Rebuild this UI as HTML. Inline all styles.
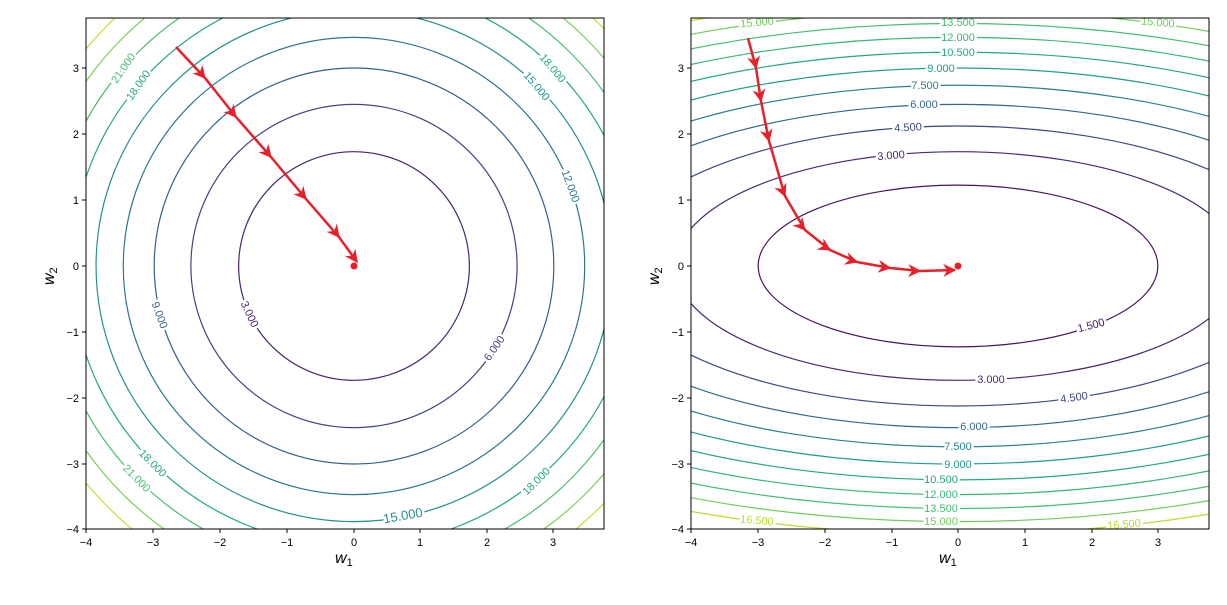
<!DOCTYPE html>
<html><head><meta charset="utf-8"><style>
html,body{margin:0;padding:0;background:#fff}
svg{display:block;font-family:"Liberation Sans","DejaVu Sans",sans-serif}
.t{font-size:11px;fill:#000}
.cl{font-size:11px;paint-order:stroke;stroke:#fff;stroke-width:5px;stroke-linejoin:round}
</style></head><body>
<svg width="1227" height="605" viewBox="0 0 1227 605" xmlns="http://www.w3.org/2000/svg">
<defs>
<clipPath id="cA"><rect x="86" y="18" width="518" height="511"/></clipPath>
<clipPath id="cB"><rect x="691" y="18" width="518" height="511"/></clipPath>
<marker id="ah" viewBox="0 0 10 10" refX="9" refY="5" markerWidth="15" markerHeight="13" markerUnits="userSpaceOnUse" orient="auto">
<path d="M0,0 L10,5 L0,10 L3,5 z" fill="#e8202a"/></marker>
</defs>
<g clip-path="url(#cA)" fill="none" stroke-width="1.2">
<g transform="translate(354,266) scale(66.6,66)">
<circle r="1.732" stroke="#482475" vector-effect="non-scaling-stroke"/>
<circle r="2.449" stroke="#414487" vector-effect="non-scaling-stroke"/>
<circle r="3" stroke="#355f8d" vector-effect="non-scaling-stroke"/>
<circle r="3.464" stroke="#2a788e" vector-effect="non-scaling-stroke"/>
<circle r="3.873" stroke="#21918c" vector-effect="non-scaling-stroke"/>
<circle r="4.243" stroke="#22a884" vector-effect="non-scaling-stroke"/>
<circle r="4.583" stroke="#44bf70" vector-effect="non-scaling-stroke"/>
<circle r="4.899" stroke="#7ad151" vector-effect="non-scaling-stroke"/>
<circle r="5.196" stroke="#bddf26" vector-effect="non-scaling-stroke"/>
</g>
</g>
<g clip-path="url(#cB)" fill="none" stroke-width="1.2">
<g transform="translate(958,266) scale(66.6,66)">
<ellipse rx="3" ry="1.225" stroke="#471365" vector-effect="non-scaling-stroke"/>
<ellipse rx="4.243" ry="1.732" stroke="#482878" vector-effect="non-scaling-stroke"/>
<ellipse rx="5.196" ry="2.121" stroke="#3e4989" vector-effect="non-scaling-stroke"/>
<ellipse rx="6" ry="2.449" stroke="#31688e" vector-effect="non-scaling-stroke"/>
<ellipse rx="6.708" ry="2.739" stroke="#26828e" vector-effect="non-scaling-stroke"/>
<ellipse rx="7.348" ry="3" stroke="#1f9e89" vector-effect="non-scaling-stroke"/>
<ellipse rx="7.937" ry="3.240" stroke="#22a884" vector-effect="non-scaling-stroke"/>
<ellipse rx="8.485" ry="3.464" stroke="#35b779" vector-effect="non-scaling-stroke"/>
<ellipse rx="9" ry="3.674" stroke="#44bf70" vector-effect="non-scaling-stroke"/>
<ellipse rx="9.487" ry="3.873" stroke="#6ece58" vector-effect="non-scaling-stroke"/>
<ellipse rx="9.950" ry="4.062" stroke="#b5de2b" vector-effect="non-scaling-stroke"/>
</g>
</g>
<g class="cl">
<text x="123" y="72" fill="#44bf70" transform="rotate(-55 123 68)" text-anchor="middle">21.000</text>
<text x="138" y="89" fill="#22a884" transform="rotate(-55 138 85)" text-anchor="middle">18.000</text>
<text x="553" y="72" fill="#22a884" transform="rotate(50 553 68)" text-anchor="middle">18.000</text>
<text x="537" y="90" fill="#21918c" transform="rotate(50 537 86)" text-anchor="middle">15.000</text>
<text x="571" y="190" fill="#2a788e" transform="rotate(70 571 186)" text-anchor="middle">12.000</text>
<text x="494" y="352" fill="#414487" transform="rotate(-55 494 348)" text-anchor="middle">6.000</text>
<text x="403" y="520" fill="#21918c" transform="rotate(-10 403 516)" text-anchor="middle" font-size="13">15.000</text>
<text x="536" y="485" fill="#22a884" transform="rotate(-45 536 481)" text-anchor="middle">18.000</text>
<text x="153" y="467" fill="#22a884" transform="rotate(45 153 463)" text-anchor="middle">18.000</text>
<text x="137" y="482" fill="#44bf70" transform="rotate(45 137 478)" text-anchor="middle">21.000</text>
<text x="160" y="319" fill="#355f8d" transform="rotate(70 160 315)" text-anchor="middle">9.000</text>
<text x="250" y="318" fill="#482475" transform="rotate(65 250 314)" text-anchor="middle">3.000</text>
</g>
<g class="cl" text-anchor="middle">
<text x="757" y="26" fill="#6ece58" transform="rotate(-5 757 22)">15.000</text>
<text x="958" y="26" fill="#44bf70">13.500</text>
<text x="958" y="41" fill="#35b779">12.000</text>
<text x="958" y="56" fill="#22a884">10.500</text>
<text x="941" y="72" fill="#1f9e89">9.000</text>
<text x="925" y="89" fill="#26828e">7.500</text>
<text x="924" y="108" fill="#31688e">6.000</text>
<text x="908" y="131" fill="#3e4989" transform="rotate(-3 908 127)">4.500</text>
<text x="891" y="159" fill="#482878" transform="rotate(-5 891 155)">3.000</text>
<text x="1158" y="26" fill="#6ece58" transform="rotate(5 1158 22)">15.000</text>
<text x="1091" y="329" fill="#471365" transform="rotate(-15 1091 325)">1.500</text>
<text x="991" y="383" fill="#482878">3.000</text>
<text x="1074" y="401" fill="#3e4989" transform="rotate(-8 1074 397)">4.500</text>
<text x="974" y="430" fill="#31688e">6.000</text>
<text x="958" y="450" fill="#26828e">7.500</text>
<text x="958" y="468" fill="#1f9e89">9.000</text>
<text x="941" y="483" fill="#22a884">10.500</text>
<text x="941" y="498" fill="#35b779">12.000</text>
<text x="941" y="512" fill="#44bf70">13.500</text>
<text x="941" y="525" fill="#6ece58">15.000</text>
<text x="757" y="524" fill="#b5de2b" transform="rotate(5 757 520)">16.500</text>
<text x="1124" y="528" fill="#b5de2b" transform="rotate(-5 1124 524)">16.500</text>
</g>
<path d="M176,47 L205,78 L236,117 L271,157 L306,199 L339,237 L357,262" fill="none" stroke="#e8202a" stroke-width="2.5" marker-mid="url(#ah)" marker-end="url(#ah)"/>
<circle cx="354" cy="266" r="3.5" fill="#e8202a"/>
<path d="M748,38 L756,68 L761,101 L769,141 L785,196 L805,230 L830,250 L857,262 L890,268 L920,271 L955,270" fill="none" stroke="#e8202a" stroke-width="2.5" marker-mid="url(#ah)" marker-end="url(#ah)"/>
<circle cx="958" cy="266" r="3.5" fill="#e8202a"/>
<rect x="86" y="18" width="518" height="511" fill="none" stroke="#000" stroke-width="1"/>
<rect x="691" y="18" width="518" height="511" fill="none" stroke="#000" stroke-width="1"/>
<g stroke="#000" stroke-width="1">
<path d="M86,529v4M153,529v4M220,529v4M287,529v4M354,529v4M420,529v4M487,529v4M553,529v4"/>
<path d="M86,529h-4M86,464h-4M86,398h-4M86,332h-4M86,266h-4M86,200h-4M86,134h-4M86,68h-4"/>
<path d="M691,529v4M758,529v4M825,529v4M892,529v4M958,529v4M1025,529v4M1092,529v4M1158,529v4"/>
<path d="M691,529h-4M691,464h-4M691,398h-4M691,332h-4M691,266h-4M691,200h-4M691,134h-4M691,68h-4"/>
</g>
<g class="t" text-anchor="middle">
<text x="86" y="546">−4</text><text x="153" y="546">−3</text><text x="220" y="546">−2</text><text x="287" y="546">−1</text><text x="354" y="546">0</text><text x="420" y="546">1</text><text x="487" y="546">2</text><text x="553" y="546">3</text>
<text x="691" y="546">−4</text><text x="758" y="546">−3</text><text x="825" y="546">−2</text><text x="892" y="546">−1</text><text x="958" y="546">0</text><text x="1025" y="546">1</text><text x="1092" y="546">2</text><text x="1158" y="546">3</text>
</g>
<g class="t" text-anchor="end">
<text x="79" y="533">−4</text><text x="79" y="468">−3</text><text x="79" y="402">−2</text><text x="79" y="336">−1</text><text x="79" y="270">0</text><text x="79" y="204">1</text><text x="79" y="138">2</text><text x="79" y="72">3</text>
<text x="684" y="533">−4</text><text x="684" y="468">−3</text><text x="684" y="402">−2</text><text x="684" y="336">−1</text><text x="684" y="270">0</text><text x="684" y="204">1</text><text x="684" y="138">2</text><text x="684" y="72">3</text>
</g>
<g font-size="16" font-style="italic" fill="#000">
<text x="335" y="563">w<tspan font-size="11" dy="3" font-style="normal">1</tspan></text>
<text x="939" y="563">w<tspan font-size="11" dy="3" font-style="normal">1</tspan></text>
<text transform="translate(54,285) rotate(-90)">w<tspan font-size="11" dy="3" font-style="normal">2</tspan></text>
<text transform="translate(659,285) rotate(-90)">w<tspan font-size="11" dy="3" font-style="normal">2</tspan></text>
</g>
</svg>
</body></html>
